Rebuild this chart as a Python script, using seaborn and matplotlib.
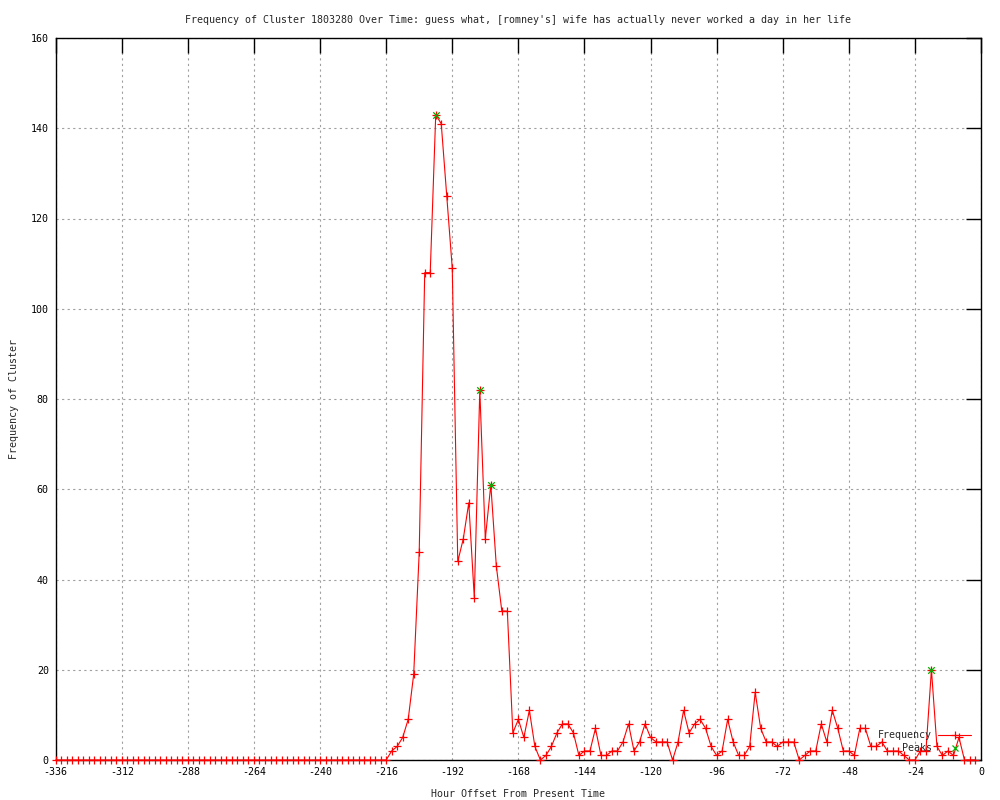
import matplotlib
matplotlib.use('Agg')
import matplotlib.pyplot as plt
import seaborn as sns
import pandas as pd
from matplotlib.lines import Line2D

# hourly buckets, every 2 hours
hours = list(range(-336, 0, 2))
quiet = [0] * 60  # -336 .. -218
freq_tail = [
    0, 2, 3, 5, 9, 19, 46, 108, 108, 143, 141, 125, 109, 44, 49, 57, 36, 82,
    49, 61, 43, 33, 33, 6, 9, 5, 11, 3, 0, 1, 3, 6, 8, 8, 6, 1, 2, 2, 7, 1,
    1, 2, 2, 4, 8, 2, 4, 8, 5, 4, 4, 4, 0, 4, 11, 6, 8, 9, 7, 3, 1, 2, 9, 4,
    1, 1, 3, 15, 7, 4, 4, 3, 4, 4, 4, 0, 1, 2, 2, 8, 4, 11, 7, 2, 2, 1, 7, 7,
    3, 3, 4, 2, 2, 2, 1, 0, 0, 2, 2, 20, 3, 1, 2, 1, 5, 0, 0, 0,
]
frequency = quiet + freq_tail

peak_hours = [-198, -182, -178, -18]
peak_values = [143, 82, 61, 20]

df = pd.DataFrame({'hour': hours, 'freq': frequency})
peaks = pd.DataFrame({'hour': peak_hours, 'freq': peak_values})

sns.set_style('white')
plt.rcParams['font.family'] = ['DejaVu Sans Mono']
plt.rcParams['font.size'] = 7.2
plt.rcParams['axes.unicode_minus'] = False

fig = plt.figure(figsize=(10, 8), dpi=100)
ax = fig.add_axes([0.0557, 0.05, 0.9253, 0.9025])

sns.lineplot(data=df, x='hour', y='freq', ax=ax, color='red', linewidth=0.8,
             marker='+', markersize=5.5, markeredgewidth=0.9, markeredgecolor='red',
             clip_on=False, zorder=4)
sns.scatterplot(data=peaks, x='hour', y='freq', ax=ax, color='#00b000', marker='x',
                s=22, linewidth=0.9, zorder=5)

ax.set_xlim(-336, 0)
ax.set_ylim(0, 160)
ax.set_xticks(range(-336, 1, 24))
ax.set_yticks(range(0, 161, 20))
ax.grid(True, color='#a0a0a0', linestyle=(0, (2, 3)), linewidth=0.8)
ax.tick_params(direction='in', length=11, width=1, top=True, right=True,
               labelsize=7.2, pad=5, colors='black')
for s in ax.spines.values():
    s.set_color('black')
    s.set_linewidth(1)

ax.set_title("Frequency of Cluster 1803280 Over Time: guess what, [romney's] wife has actually never worked a day in her life",
             fontsize=7.2, pad=11)
ax.set_xlabel('Hour Offset From Present Time', fontsize=7.2, labelpad=8.5)
ax.set_ylabel('Frequency of Cluster', fontsize=7.2, labelpad=8.5)

handles = [
    Line2D([], [], color='red', linewidth=0.8, marker='+', markersize=5.5, markeredgewidth=0.9),
    Line2D([], [], color='#00b000', linestyle='none', marker='x', markersize=5, markeredgewidth=0.9),
]
ax.legend(handles, ['Frequency', 'Peaks'], loc='lower right', bbox_to_anchor=(0.997, 0.0),
          frameon=False, markerfirst=False, handlelength=3.3, labelspacing=0.3,
          handletextpad=0.6, fontsize=7.2, borderaxespad=0.3)

fig.savefig('out.png', dpi=100)
